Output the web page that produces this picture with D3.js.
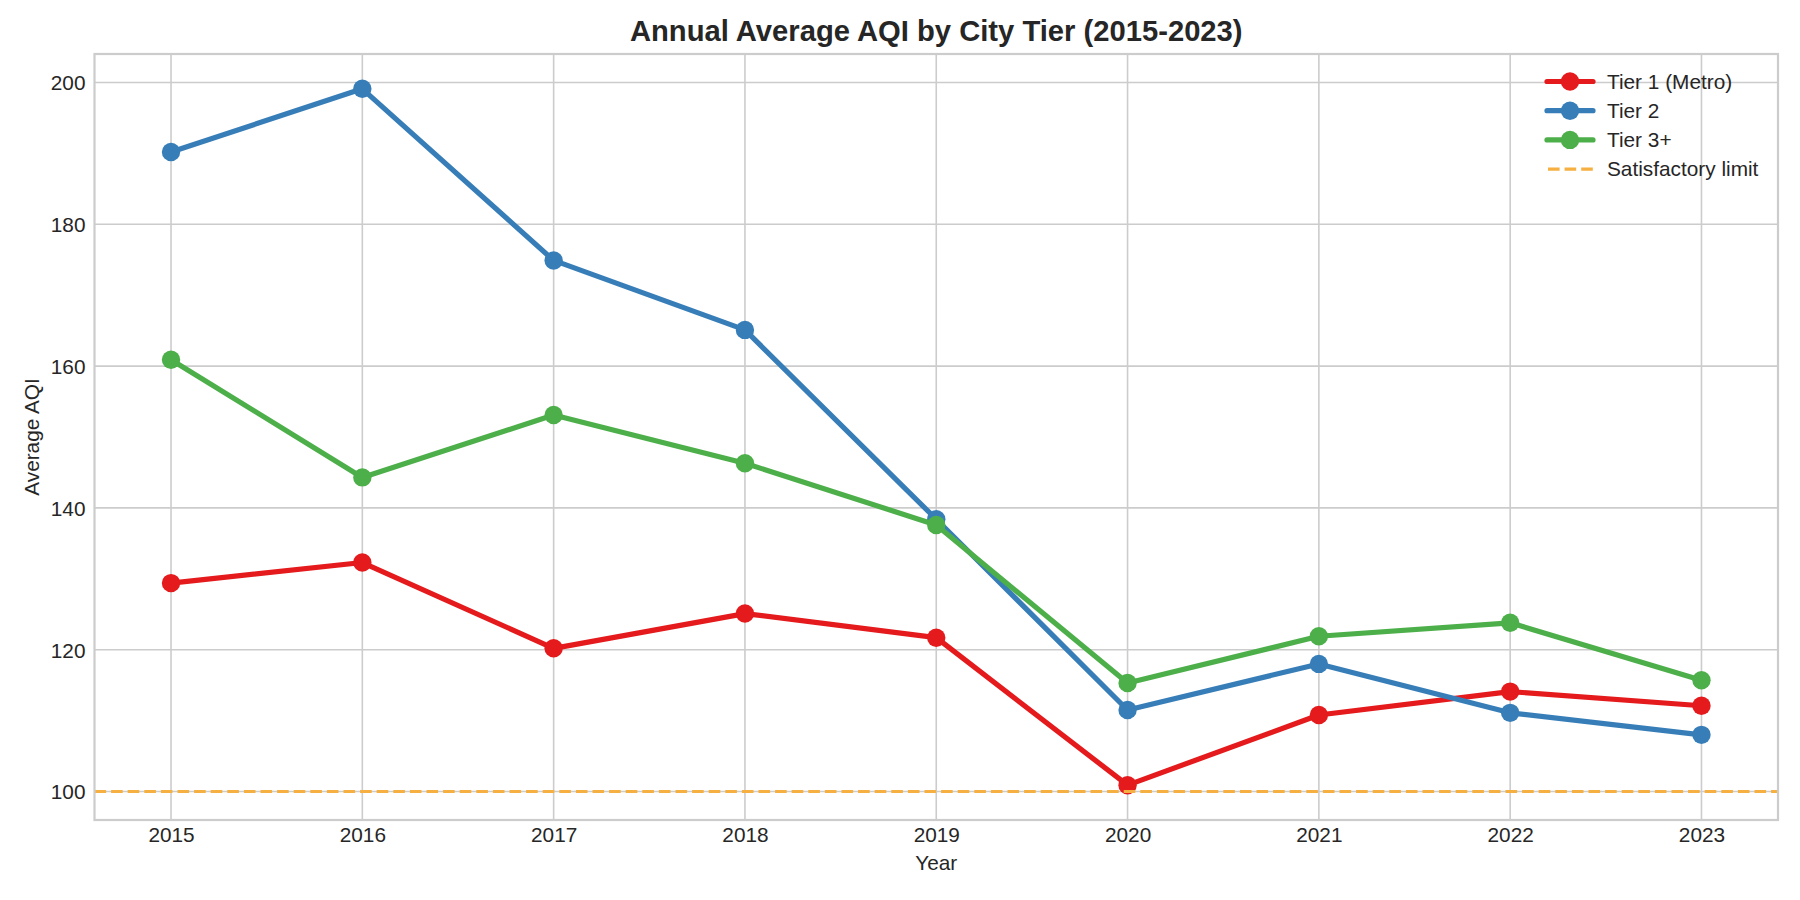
<!DOCTYPE html>
<html>
<head>
<meta charset="utf-8">
<script src="https://cdn.jsdelivr.net/npm/d3@7"></script>
<style>
  html, body { margin: 0; padding: 0; background: #ffffff; }
  svg { display: block; }
  text { font-family: "Liberation Sans", Arial, sans-serif; fill: #262626; }
</style>
</head>
<body>
<svg id="chart" width="1800" height="900"></svg>
<script>
// ---- Data ----
const years = [2015, 2016, 2017, 2018, 2019, 2020, 2021, 2022, 2023];
const tier1 = [129.4, 132.3, 120.2, 125.1, 121.7, 100.9, 110.8, 114.1, 112.1];
const tier2 = [190.2, 199.1, 174.9, 165.1, 138.4, 111.5, 118.0, 111.1, 108.0];
const tier3 = [160.9, 144.3, 153.1, 146.3, 137.6, 115.3, 121.9, 123.8, 115.7];
const seriesNames = ["Tier 1 (Metro)", "Tier 2", "Tier 3+"];
const seriesColors = ["#e41a1c", "#377eb8", "#4daf4a"];
const limitValue = 100;
const limitLabel = "Satisfactory limit";
const limitColor = "#f5b041";
const yTicks = [100, 120, 140, 160, 180, 200];
const titleText = "Annual Average AQI by City Tier (2015-2023)";
const xLabel = "Year";
const yLabel = "Average AQI";

const seriesValues = [tier1, tier2, tier3];

// ---- Layout ----
const W = 1800, H = 900;
const plot = { left: 94.5, right: 1778, top: 54, bottom: 820 };

const svg = d3.select("#chart");
svg.append("rect").attr("width", W).attr("height", H).attr("fill", "#ffffff");

// scales with matplotlib-like 5% margins
const xMin = d3.min(years), xMax = d3.max(years);
const xPad = (xMax - xMin) * 0.05;
const x = d3.scaleLinear().domain([xMin - xPad, xMax + xPad]).range([plot.left, plot.right]);

const allVals = seriesValues.flat();
const yMin = d3.min(allVals), yMax = d3.max(allVals);
const yPad = (yMax - yMin) * 0.05;
const y = d3.scaleLinear().domain([yMin - yPad, yMax + yPad]).range([plot.bottom, plot.top]);

// ---- Grid ----
const grid = svg.append("g");
grid.selectAll("line.vg").data(years).enter().append("line")
  .attr("x1", d => x(d)).attr("x2", d => x(d))
  .attr("y1", plot.top).attr("y2", plot.bottom)
  .attr("stroke", "#cccccc").attr("stroke-width", 1.6);
grid.selectAll("line.hg").data(yTicks).enter().append("line")
  .attr("x1", plot.left).attr("x2", plot.right)
  .attr("y1", d => y(d)).attr("y2", d => y(d))
  .attr("stroke", "#cccccc").attr("stroke-width", 1.6);

// ---- Series ----
const line = d3.line().x((d, i) => x(years[i])).y(d => y(d));
seriesValues.forEach((vals, si) => {
  const g = svg.append("g");
  g.append("path").datum(vals)
    .attr("d", line)
    .attr("fill", "none")
    .attr("stroke", seriesColors[si])
    .attr("stroke-width", 5.2)
    .attr("stroke-linejoin", "round")
    .attr("stroke-linecap", "butt");
  g.selectAll("circle").data(vals).enter().append("circle")
    .attr("cx", (d, i) => x(years[i]))
    .attr("cy", d => y(d))
    .attr("r", 9.2)
    .attr("fill", seriesColors[si]);
});

// ---- Limit line ----
svg.append("line")
  .attr("x1", plot.left).attr("x2", plot.right)
  .attr("y1", y(limitValue)).attr("y2", y(limitValue))
  .attr("stroke", limitColor).attr("stroke-width", 3.1)
  .attr("stroke-dasharray", "11.6,5");

// ---- Frame ----
svg.append("rect")
  .attr("x", plot.left).attr("y", plot.top)
  .attr("width", plot.right - plot.left).attr("height", plot.bottom - plot.top)
  .attr("fill", "none").attr("stroke", "#cccccc").attr("stroke-width", 2.2);

// ---- Axes tick labels ----
const xAxis = d3.axisBottom(x).tickValues(years).tickFormat(d3.format("d")).tickSize(0).tickPadding(0);
const gx = svg.append("g").attr("transform", `translate(0,${plot.bottom})`).call(xAxis);
gx.select(".domain").remove();
gx.selectAll("text").attr("y", 22).attr("dy", 0)
  .style("font-size", "20.8px").style("font-family", "Liberation Sans, Arial, sans-serif").attr("fill", "#262626");

const yAxis = d3.axisLeft(y).tickValues(yTicks).tickFormat(d3.format("d")).tickSize(0).tickPadding(0);
const gy = svg.append("g").attr("transform", `translate(${plot.left},0)`).call(yAxis);
gy.select(".domain").remove();
gy.selectAll("text").attr("x", -9).attr("dy", "0.35em")
  .style("font-size", "20.8px").style("font-family", "Liberation Sans, Arial, sans-serif").attr("fill", "#262626");

// ---- Axis labels & title ----
svg.append("text")
  .attr("x", (plot.left + plot.right) / 2).attr("y", 870)
  .attr("text-anchor", "middle").style("font-size", "20.8px")
  .text(xLabel);
svg.append("text")
  .attr("transform", `translate(38.5,${(plot.top + plot.bottom) / 2}) rotate(-90)`)
  .attr("text-anchor", "middle").style("font-size", "20.8px")
  .text(yLabel);
svg.append("text")
  .attr("x", (plot.left + plot.right) / 2).attr("y", 41)
  .attr("text-anchor", "middle").style("font-size", "29.2px").style("font-weight", "bold")
  .text(titleText);

// ---- Legend ----
const legendItems = seriesNames.map((n, i) => ({ name: n, color: seriesColors[i], type: "series" }))
  .concat([{ name: limitLabel, color: limitColor, type: "limit" }]);
const lg = svg.append("g");
const lgX0 = 1547, lgX1 = 1593, lgText = 1607, lgY0 = 81.5, lgDy = 29.2;
legendItems.forEach((item, i) => {
  const cy = lgY0 + i * lgDy;
  if (item.type === "series") {
    lg.append("line").attr("x1", lgX0).attr("x2", lgX1).attr("y1", cy).attr("y2", cy)
      .attr("stroke", item.color).attr("stroke-width", 5.2).attr("stroke-linecap", "round");
    lg.append("circle").attr("cx", (lgX0 + lgX1) / 2).attr("cy", cy).attr("r", 9.2).attr("fill", item.color);
  } else {
    lg.append("line").attr("x1", lgX0 + 1).attr("x2", lgX1).attr("y1", cy).attr("y2", cy)
      .attr("stroke", item.color).attr("stroke-width", 3.1).attr("stroke-dasharray", "11.6,5");
  }
  lg.append("text").attr("x", lgText).attr("y", cy).attr("dy", "0.35em")
    .style("font-size", "20.8px").text(item.name);
});
</script>
</body>
</html>
